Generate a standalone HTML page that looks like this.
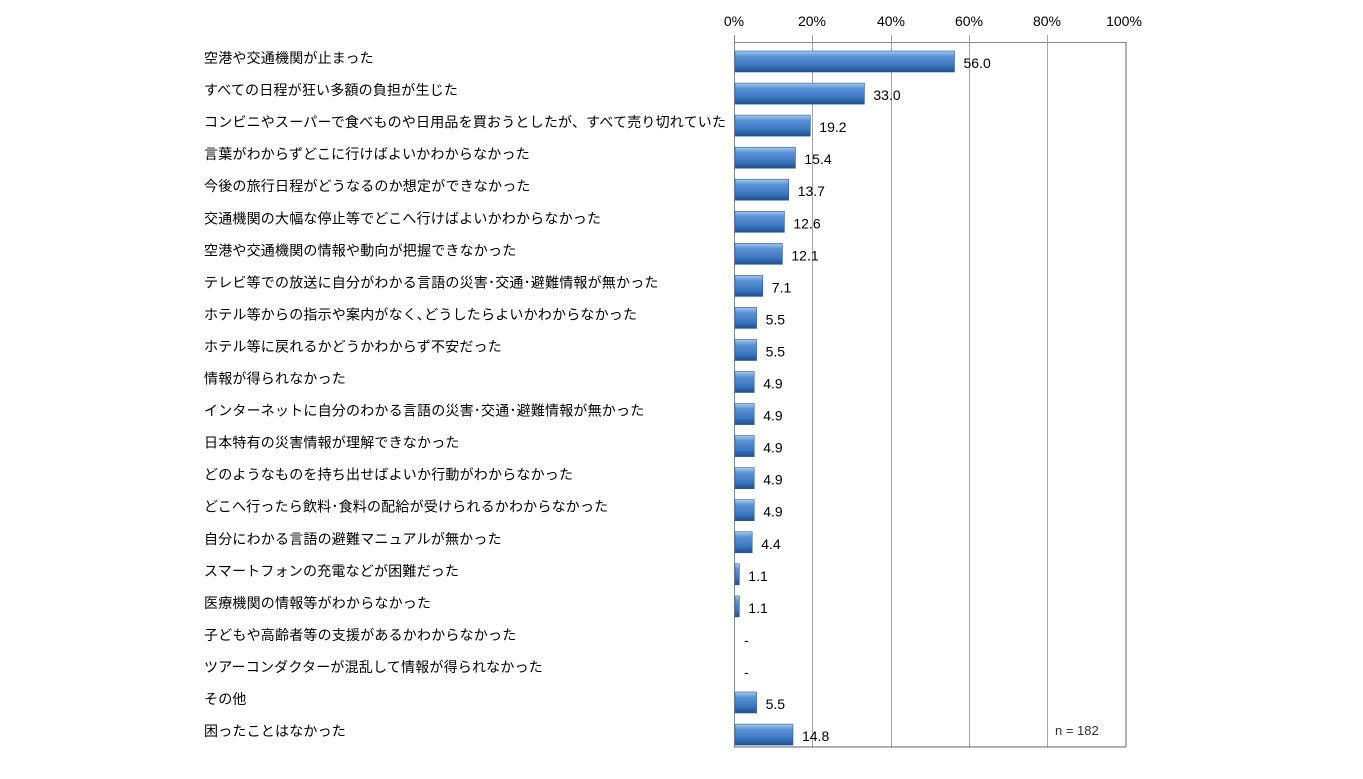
<!DOCTYPE html>
<html><head><meta charset="utf-8"><style>
body{margin:0;background:#fff;}
svg{display:block;}
text{font-family:"Liberation Sans","Noto Sans CJK JP",sans-serif;}
</style></head><body>
<svg width="1363" height="779" xmlns="http://www.w3.org/2000/svg">
<defs>
<linearGradient id="g" x1="0" y1="0" x2="0" y2="1">
<stop offset="0" stop-color="#a9c8ee"/><stop offset="0.25" stop-color="#5b93d6"/><stop offset="0.7" stop-color="#3a75c0"/><stop offset="1" stop-color="#1f4f8e"/>
</linearGradient>
</defs>
<g stroke="#a6a6a6" stroke-width="1">
<line x1="812.5" y1="35" x2="812.5" y2="747"/>
<line x1="891.5" y1="35" x2="891.5" y2="747"/>
<line x1="969.5" y1="35" x2="969.5" y2="747"/>
<line x1="1047.5" y1="35" x2="1047.5" y2="747"/>
</g>
<line x1="734" y1="42.5" x2="1126" y2="42.5" stroke="#888"/>
<line x1="734.5" y1="35" x2="734.5" y2="747" stroke="#888"/>
<line x1="1126" y1="42" x2="1126" y2="747" stroke="#666"/>
<line x1="734" y1="747" x2="1126" y2="747" stroke="#666"/>
<g font-size="14" fill="#000" text-anchor="middle">
<text x="734" y="26">0%</text><text x="812" y="26">20%</text><text x="891" y="26">40%</text><text x="969" y="26">60%</text><text x="1047" y="26">80%</text><text x="1124" y="26">100%</text>
</g>
<g font-size="14" fill="#000" letter-spacing="0.2">
<text x="204" y="63">空港や交通機関が止まった</text>
<text x="204" y="95.1">すべての日程が狂い多額の負担が生じた</text>
<text x="204" y="127.1">コンビニやスーパーで食べものや日用品を買おうとしたが、すべて売り切れていた</text>
<text x="204" y="159.2">言葉がわからずどこに行けばよいかわからなかった</text>
<text x="204" y="191.2">今後の旅行日程がどうなるのか想定ができなかった</text>
<text x="204" y="223.3">交通機関の大幅な停止等でどこへ行けばよいかわからなかった</text>
<text x="204" y="255.3">空港や交通機関の情報や動向が把握できなかった</text>
<text x="204" y="287.4">テレビ等での放送に自分がわかる言語の災害･交通･避難情報が無かった</text>
<text x="204" y="319.4">ホテル等からの指示や案内がなく､どうしたらよいかわからなかった</text>
<text x="204" y="351.5">ホテル等に戻れるかどうかわからず不安だった</text>
<text x="204" y="383.5">情報が得られなかった</text>
<text x="204" y="415.6">インターネットに自分のわかる言語の災害･交通･避難情報が無かった</text>
<text x="204" y="447.6">日本特有の災害情報が理解できなかった</text>
<text x="204" y="479.7">どのようなものを持ち出せばよいか行動がわからなかった</text>
<text x="204" y="511.7">どこへ行ったら飲料･食料の配給が受けられるかわからなかった</text>
<text x="204" y="543.8">自分にわかる言語の避難マニュアルが無かった</text>
<text x="204" y="575.8">スマートフォンの充電などが困難だった</text>
<text x="204" y="607.9">医療機関の情報等がわからなかった</text>
<text x="204" y="639.9">子どもや高齢者等の支援があるかわからなかった</text>
<text x="204" y="672">ツアーコンダクターが混乱して情報が得られなかった</text>
<text x="204" y="704">その他</text>
<text x="204" y="736.1">困ったことはなかった</text>
</g>
<g fill="url(#g)" stroke="#2a5a9a" stroke-width="0.6">
<rect x="735" y="51" width="219.5" height="21"/>
<rect x="735" y="83.1" width="129.4" height="21"/>
<rect x="735" y="115.1" width="75.3" height="21"/>
<rect x="735" y="147.2" width="60.4" height="21"/>
<rect x="735" y="179.2" width="53.7" height="21"/>
<rect x="735" y="211.3" width="49.4" height="21"/>
<rect x="735" y="243.3" width="47.4" height="21"/>
<rect x="735" y="275.4" width="27.8" height="21"/>
<rect x="735" y="307.4" width="21.6" height="21"/>
<rect x="735" y="339.5" width="21.6" height="21"/>
<rect x="735" y="371.5" width="19.2" height="21"/>
<rect x="735" y="403.6" width="19.2" height="21"/>
<rect x="735" y="435.6" width="19.2" height="21"/>
<rect x="735" y="467.7" width="19.2" height="21"/>
<rect x="735" y="499.7" width="19.2" height="21"/>
<rect x="735" y="531.8" width="17.2" height="21"/>
<rect x="735" y="563.8" width="4.3" height="21"/>
<rect x="735" y="595.9" width="4.3" height="21"/>
<rect x="735" y="692" width="21.6" height="21"/>
<rect x="735" y="724.1" width="58" height="21"/>
</g>
<g font-size="14" fill="#000">
<text x="963.5" y="68">56.0</text>
<text x="873.4" y="100.1">33.0</text>
<text x="819.3" y="132.1">19.2</text>
<text x="804.4" y="164.2">15.4</text>
<text x="797.7" y="196.2">13.7</text>
<text x="793.4" y="228.3">12.6</text>
<text x="791.4" y="260.3">12.1</text>
<text x="771.8" y="292.4">7.1</text>
<text x="765.6" y="324.4">5.5</text>
<text x="765.6" y="356.5">5.5</text>
<text x="763.2" y="388.5">4.9</text>
<text x="763.2" y="420.6">4.9</text>
<text x="763.2" y="452.6">4.9</text>
<text x="763.2" y="484.7">4.9</text>
<text x="763.2" y="516.7">4.9</text>
<text x="761.2" y="548.8">4.4</text>
<text x="748.3" y="580.8">1.1</text>
<text x="748.3" y="612.9">1.1</text>
<text x="744" y="644.9">-</text>
<text x="744" y="677">-</text>
<text x="765.6" y="709">5.5</text>
<text x="802" y="741.1">14.8</text>
</g>
<text x="1055" y="735" font-size="13" fill="#333">n = 182</text>
</svg>
</body></html>
